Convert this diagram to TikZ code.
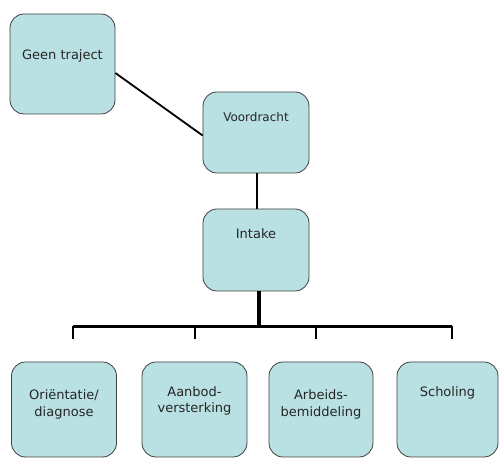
\documentclass[tikz,border=0pt]{standalone}
\usepackage{fontspec}
\setmainfont{DejaVu Sans}
\usepackage{xcolor}
\definecolor{boxfill}{RGB}{185,224,227}
\definecolor{boxline}{RGB}{64,64,64}
\usepackage{tikz}
\usetikzlibrary{positioning}

\begin{document}
\begin{tikzpicture}[x=1pt, y=1pt,
    box/.style={rectangle, draw=boxline, line width=0.8pt, fill=boxfill, rounded corners=14pt, minimum width=105pt},
    boxtext/.style={anchor=center, align=center, font=\fontsize{13}{16.5}\selectfont, text=black!85},
    link/.style={draw, line width=1.8pt},
    trunk/.style={draw, line width=3.5pt},
    drop/.style={draw, line width=2pt}]

    \clip (0,0) rectangle (499,458);

    % Top part
    \node [box, minimum height=100pt, label={[boxtext, yshift=-42pt]north:Geen traject}] (geen) at (62.5,394) {};
    \node [box, minimum width=106pt, minimum height=81pt, label={[boxtext, yshift=-25pt, font=\fontsize{12}{15}\selectfont]north:Voordracht}] (voordracht) at (256,325.5) {};
    \node [box, minimum width=106pt, minimum height=82pt, label={[boxtext, yshift=-25pt]north:Intake}] (intake) at (256,208) {};

    % Trajects
    \node [box, minimum height=95pt, label={[boxtext, yshift=-43pt]north:Oriëntatie/\\diagnose}] (orientatie) at (64,48.5) {};
    \node [box, minimum height=95pt, label={[boxtext, yshift=-39.5pt]north:Aanbod-\\versterking}] (aanbod) at (194.5,48.5) {};
    \node [box, minimum width=104pt, minimum height=95pt, label={[boxtext, yshift=-43pt]north:Arbeids-\\bemiddeling}] (arbeid) at (321,48.5) {};
    \node [box, minimum width=101pt, minimum height=95pt, label={[boxtext, yshift=-31pt]north:Scholing}] (scholing) at (447.5,48.5) {};

    % Tree coordinates
    \coordinate (split) at (259,131.5);
    \coordinate (dropA) at (73,131.5);
    \coordinate (dropB) at (195,131.5);
    \coordinate (dropC) at (316,131.5);
    \coordinate (dropD) at (452,131.5);

    % Connections
    \path [link] ([yshift=-9pt]geen.east) -- ([yshift=-3pt]voordracht.west);
    \path [draw, line width=1.6pt] ([xshift=1pt]voordracht.south) -- ([xshift=1pt]intake.north);
    \path [trunk] (intake.south -| split) -- (split);
    \path [trunk] (dropA) -- (dropD);
    \path [drop] (dropA) -- ++(0,-13);
    \path [drop] (dropB) -- ++(0,-13);
    \path [drop] (dropC) -- ++(0,-13);
    \path [drop] (dropD) -- ++(0,-13);
\end{tikzpicture}
\end{document}
